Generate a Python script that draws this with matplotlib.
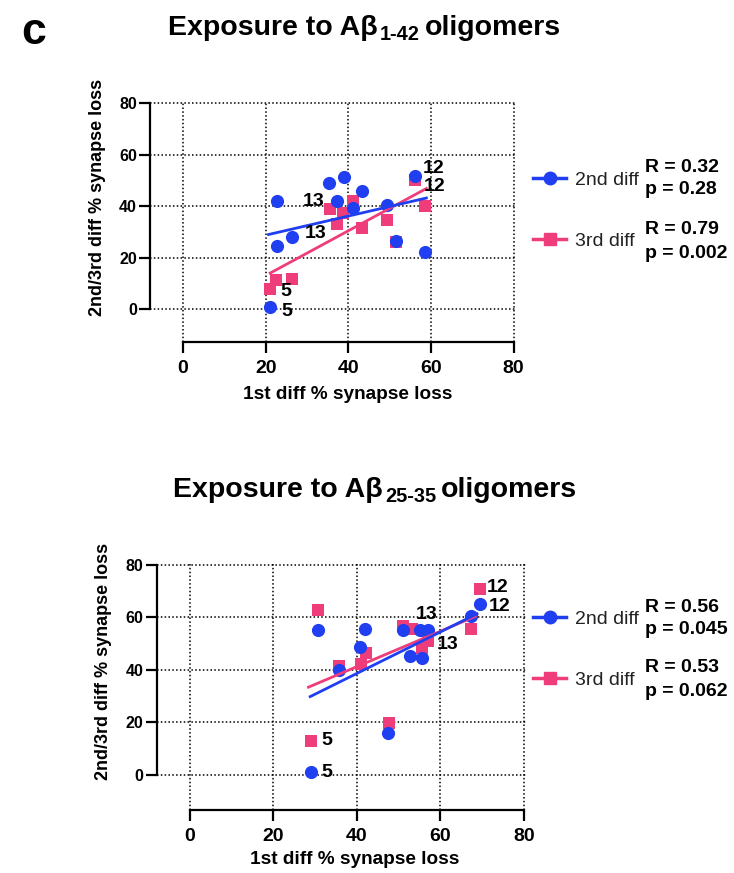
import numpy as np
import matplotlib.pyplot as plt

plt.rcParams['font.family'] = ['Liberation Sans', 'DejaVu Sans']

BLUE = '#1f3ff0'
PINK = '#ef3d7b'

ticks = [0, 20, 40, 60, 80]

# --- panel 1: exposure to Abeta 1-42 ---
x1_2nd = [21.1, 22.8, 22.8, 26.4, 35.4, 37.2, 39.0, 41.1, 43.3, 49.4, 51.5, 56.1, 58.5]
y1_2nd = [0.8, 42.2, 24.4, 27.9, 49.1, 42.2, 51.4, 39.4, 45.8, 40.6, 26.4, 51.9, 22.2]
x1_3rd = [21.1, 22.5, 26.4, 35.5, 37.2, 38.8, 41.1, 43.3, 49.4, 51.5, 56.1, 58.5]
y1_3rd = [7.9, 11.4, 11.8, 39.1, 32.9, 37.4, 41.9, 31.6, 34.8, 26.0, 50.4, 40.0]
fit1_x_2nd = [20.7, 58.9]
fit1_y_2nd = [29.0, 43.2]
fit1_x_3rd = [21.1, 58.9]
fit1_y_3rd = [14.0, 46.9]
lab1_text = ['5', '5', '13', '13', '12', '12']
lab1_x = [24.8, 25.0, 31.7, 32.1, 60.6, 61.0]
lab1_y = [6.9, -0.9, 42.0, 29.4, 54.5, 47.5]
stats1 = [('R = 0.32', 'p = 0.28'), ('R = 0.79', 'p = 0.002')]

# --- panel 2: exposure to Abeta 25-35 ---
x2_2nd = [29.0, 30.6, 35.8, 40.8, 42.0, 47.4, 51.0, 52.8, 55.2, 55.6, 57.0, 67.4, 69.6]
y2_2nd = [1.3, 55.2, 40.0, 48.5, 55.5, 16.1, 55.2, 45.3, 55.2, 44.4, 55.2, 60.5, 65.1]
x2_3rd = [29.0, 30.6, 35.6, 41.0, 42.2, 47.6, 51.0, 53.2, 55.6, 57.0, 67.4, 69.6]
y2_3rd = [12.9, 62.6, 41.6, 42.3, 46.3, 19.9, 56.5, 55.5, 48.2, 50.8, 55.6, 70.8]
fit2_x_2nd = [28.8, 68.8]
fit2_y_2nd = [29.8, 61.3]
fit2_x_3rd = [28.4, 68.4]
fit2_y_3rd = [33.4, 60.3]
lab2_text = ['5', '5', '13', '13', '12', '12']
lab2_x = [32.8, 32.8, 56.8, 61.8, 73.8, 74.2]
lab2_y = [13.3, 0.9, 60.9, 49.5, 71.1, 64.1]
stats2 = [('R = 0.56', 'p = 0.045'), ('R = 0.53', 'p = 0.062')]

W, H = 734, 873
fig = plt.figure(figsize=(W / 100, H / 100), dpi=100)


def fx(px):
    return px / W


def fy(py):
    return 1 - py / H


def draw_panel(rect, ylim_lo, xa, ya, xb, yb, fxa, fya, fxb, fyb, lt, lx, ly):
    ax = fig.add_axes(rect)
    ax.scatter(xb, yb, marker='s', s=64, color=PINK, zorder=3, linewidths=0)
    ax.scatter(xa, ya, marker='o', s=90, color=BLUE, zorder=4, linewidths=0)
    ax.plot(fxb, fyb, color=PINK, lw=2.0, zorder=5)
    ax.plot(fxa, fya, color=BLUE, lw=2.0, zorder=5)
    for t, x, y in zip(lt, lx, ly):
        ax.text(x, y, t, fontsize=14, fontweight='bold', ha='center', va='center', zorder=6)
    ax.set_xlim(-8, 80.6)
    ax.set_ylim(ylim_lo, 80.6)
    ax.set_xticks(ticks)
    ax.set_yticks(ticks)
    ax.spines[['top', 'right']].set_visible(False)
    ax.spines['left'].set_bounds(0, 80)
    ax.spines['bottom'].set_bounds(0, 80)
    for s in ['left', 'bottom']:
        ax.spines[s].set_linewidth(1.6)
    ax.grid(True, color='black', linestyle=(0, (1, 1.5)), linewidth=1.1)
    ax.set_axisbelow(True)
    ax.tick_params(direction='out', length=8, width=1.6)
    ax.tick_params(axis='x', labelsize=14, pad=5)
    ax.tick_params(axis='y', labelsize=11.5, pad=1.5)
    for lab in ax.get_xticklabels() + ax.get_yticklabels():
        lab.set_fontweight('bold')
    return ax


def title(x0, y0, sub):
    t1 = fig.text(fx(x0), fy(y0), 'Exposure to A\u03b2', fontsize=20.5, fontweight='bold',
                  ha='left', va='bottom')
    t2 = fig.add_artist(plt.Annotation(sub, xy=(1, 0), xycoords=t1, xytext=(1.5, -2.5),
                                       textcoords='offset points', fontsize=14.4,
                                       fontweight='bold', ha='left', va='bottom'))
    fig.add_artist(plt.Annotation('oligomers', xy=(1, 0), xycoords=(t2, t1), xytext=(3.5, 0),
                                  textcoords='offset points', fontsize=20.5,
                                  fontweight='bold', ha='left', va='bottom'))


def legend_block(ax, y_top, y_bot, stats):
    h1, = ax.plot([], [], color=BLUE, marker='o', ms=9, lw=2.5)
    h2, = ax.plot([], [], color=PINK, marker='s', ms=8, lw=2.5)
    ax.legend([h1, h2], ['2nd diff', '3rd diff'], loc='center left',
              bbox_to_anchor=(fx(533), fy((y_top + y_bot) / 2)), bbox_transform=fig.transFigure,
              frameon=False, fontsize=14, handlelength=1.7, handletextpad=0.45,
              borderpad=0, borderaxespad=0, labelspacing=2.25, labelcolor='#222222')
    for yc, (r, p) in zip([y_top, y_bot], stats):
        fig.text(fx(645), fy(yc - 12), r, fontsize=14, fontweight='bold', ha='left', va='center')
        fig.text(fx(645), fy(yc + 11), p, fontsize=14, fontweight='bold', ha='left', va='center')


# panel letter
fig.text(fx(34), fy(33), 'c', fontsize=32, fontweight='bold', ha='center', va='center')

# top panel
ax1 = draw_panel([fx(150), fy(341.7), 366 / W, 239.8 / H], -12.7,
                 x1_2nd, y1_2nd, x1_3rd, y1_3rd,
                 fit1_x_2nd, fit1_y_2nd, fit1_x_3rd, fit1_y_3rd,
                 lab1_text, lab1_x, lab1_y)
title(168, 41, '1-42')
fig.text(fx(98), fy(197), '2nd/3rd diff % synapse loss', rotation=90, fontsize=13,
         fontweight='bold', ha='center', va='center')
fig.text(fx(348), fy(395), '1st diff % synapse loss', fontsize=13.7,
         fontweight='bold', ha='center', va='center')
legend_block(ax1, 179, 242, stats1)

# bottom panel
ax2 = draw_panel([fx(156.7), fy(810), 369.5 / W, 247 / H], -13.3,
                 x2_2nd, y2_2nd, x2_3rd, y2_3rd,
                 fit2_x_2nd, fit2_y_2nd, fit2_x_3rd, fit2_y_3rd,
                 lab2_text, lab2_x, lab2_y)
title(173, 503, '25-35')
fig.text(fx(104), fy(661), '2nd/3rd diff % synapse loss', rotation=90, fontsize=13,
         fontweight='bold', ha='center', va='center')
fig.text(fx(355), fy(860), '1st diff % synapse loss', fontsize=13.7,
         fontweight='bold', ha='center', va='center')
legend_block(ax2, 619, 680, stats2)

fig.savefig('out.png', dpi=100)
